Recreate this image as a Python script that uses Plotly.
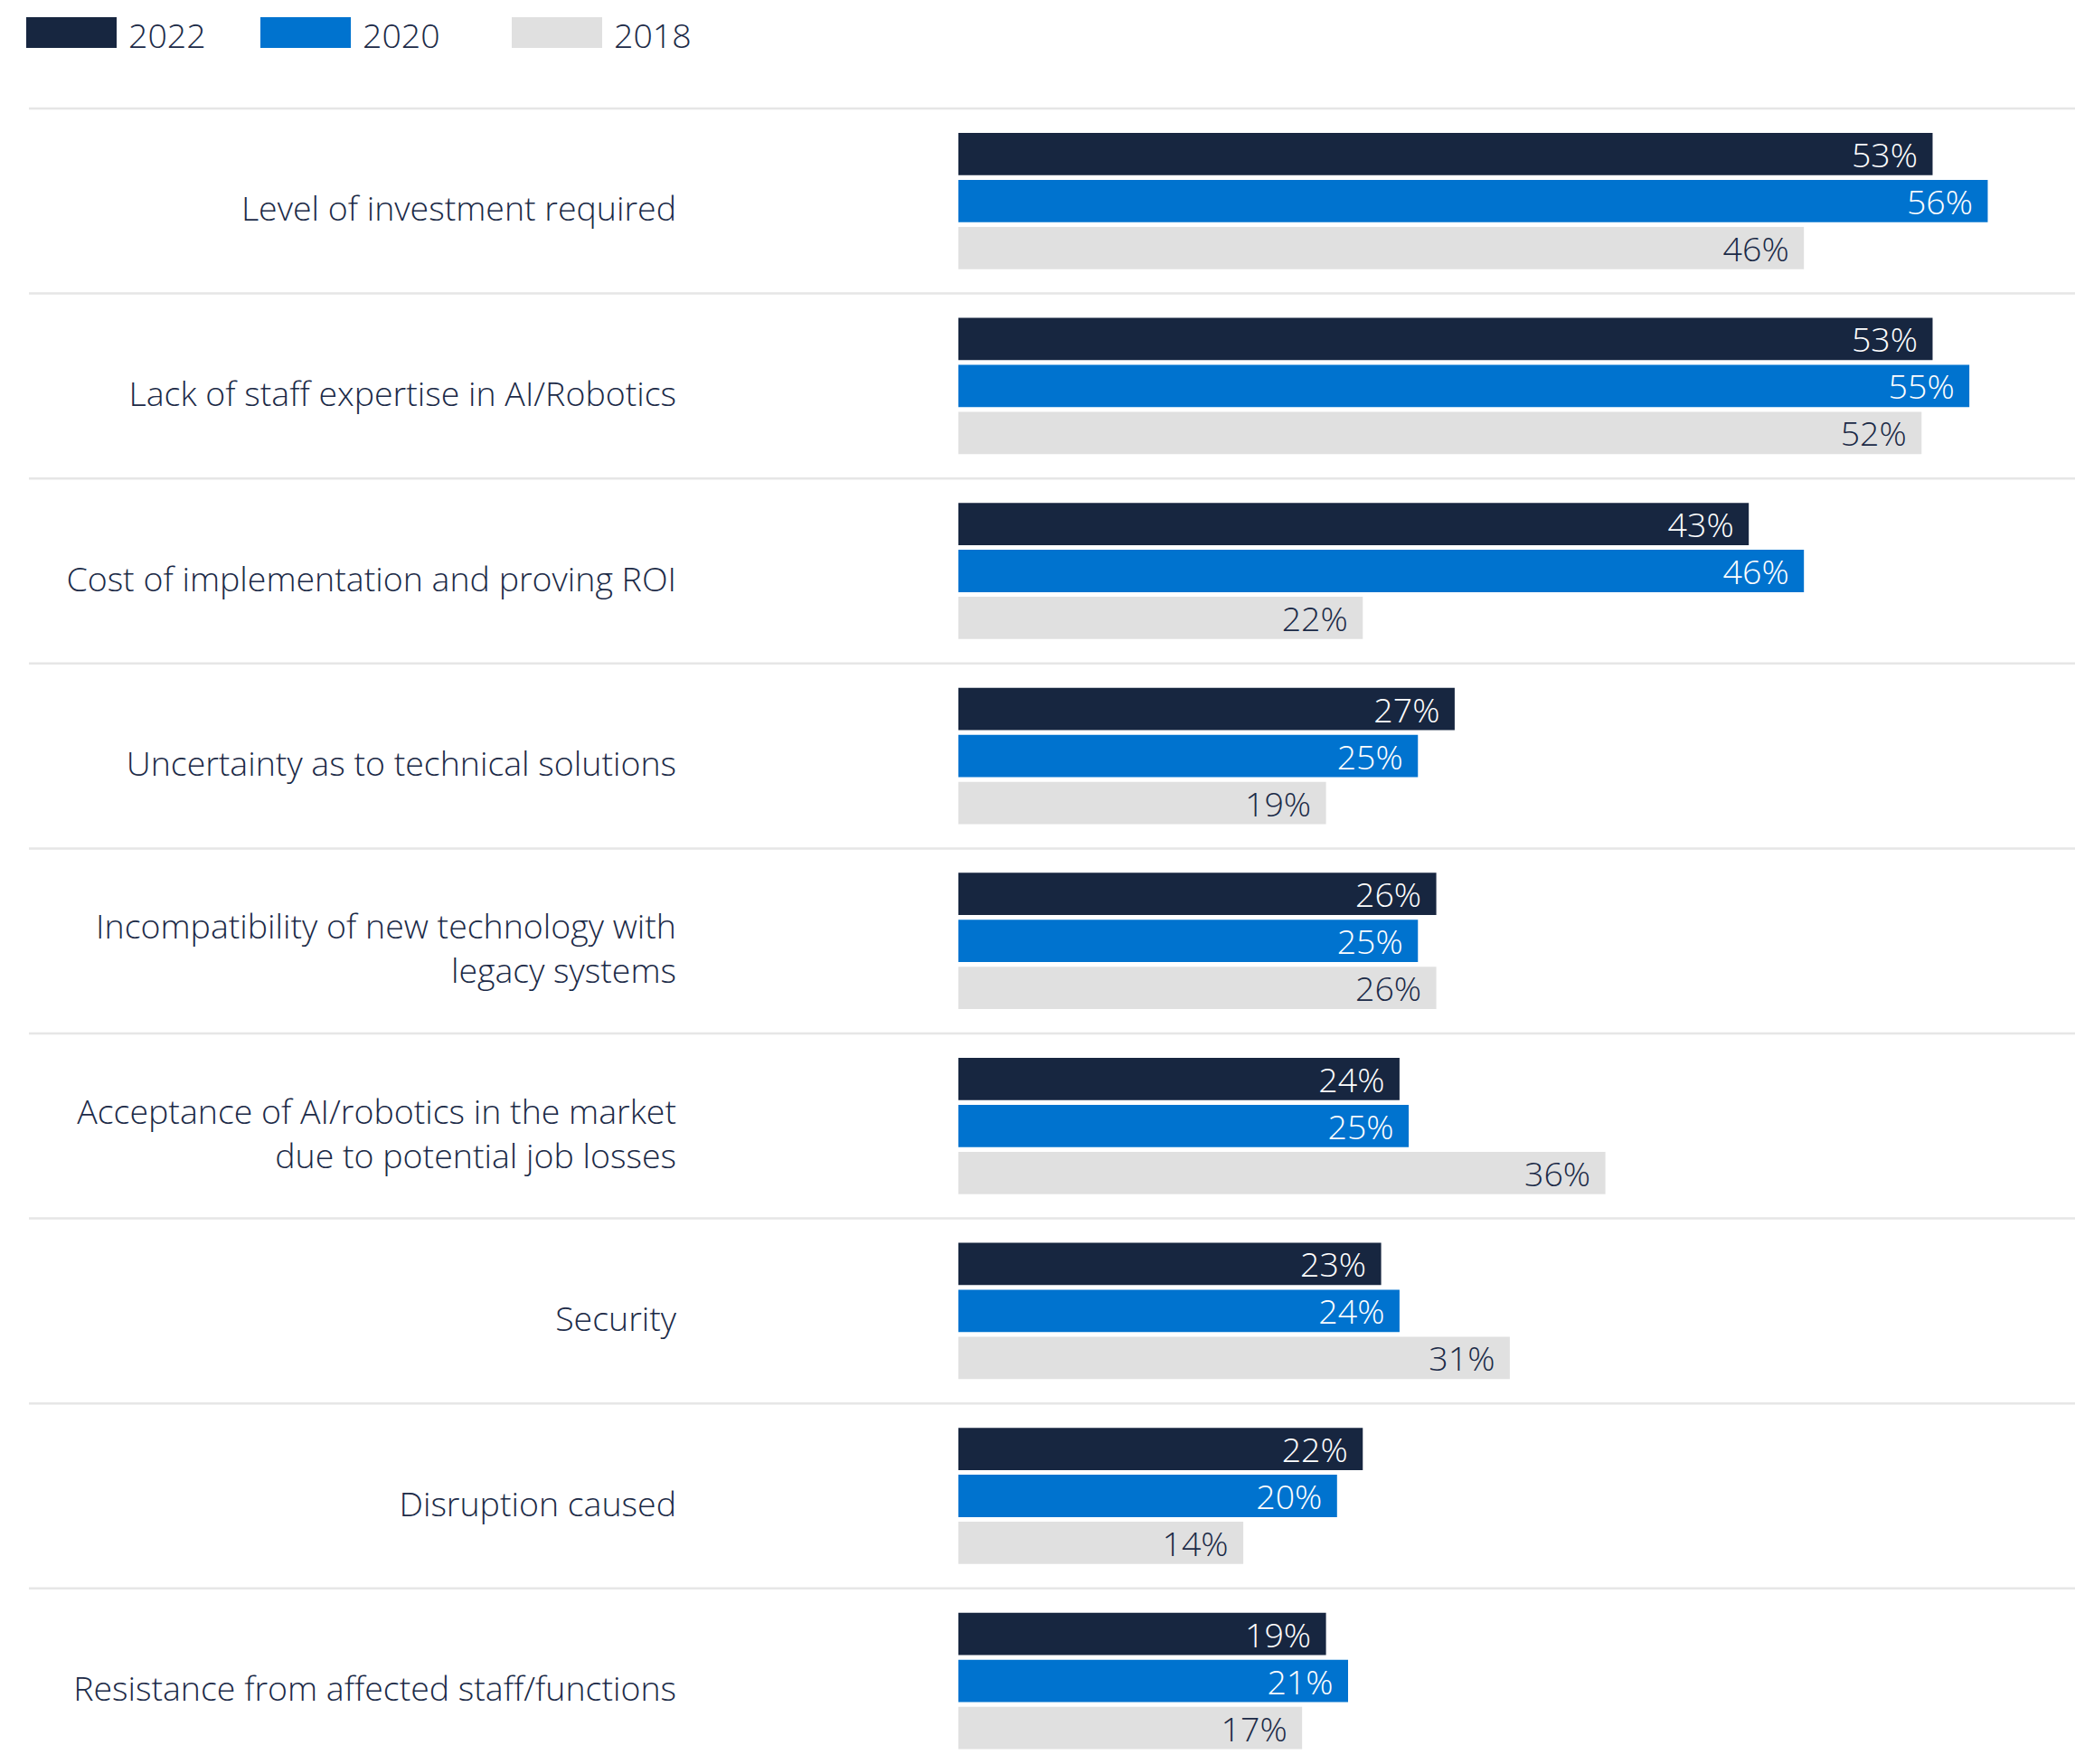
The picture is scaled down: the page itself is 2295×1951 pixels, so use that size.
import plotly.graph_objects as go

categories = [
    "Level of investment required",
    "Lack of staff expertise in AI/Robotics",
    "Cost of implementation and proving ROI",
    "Uncertainty as to technical solutions",
    "Incompatibility of new technology with<br>legacy systems",
    "Acceptance of AI/robotics in the market<br>due to potential job losses",
    "Security",
    "Disruption caused",
    "Resistance from affected staff/functions",
]
series_names = ["2022", "2020", "2018"]
# bar lengths as drawn in the picture
values_2022 = [53, 53, 43, 27, 26, 24, 23, 22, 20]
values_2020 = [56, 55, 46, 25, 25, 24.5, 24, 20.6, 21.2]
values_2018 = [46, 52.4, 22, 20, 26, 35.2, 30, 15.5, 18.7]
# printed labels
labels_2022 = [53, 53, 43, 27, 26, 24, 23, 22, 19]
labels_2020 = [56, 55, 46, 25, 25, 25, 24, 20, 21]
labels_2018 = [46, 52, 22, 19, 26, 36, 31, 14, 17]
colors = ["#172640", "#0073CF", "#E0E0E0"]
label_colors = ["#FFFFFF", "#FFFFFF", "#1B2A47"]

W, H = 2295, 1951
L, R, T, B = 1060, 0, 116, 0
unit_px = 204.6
x_px_per_unit = 20.33
FONT = "Open Sans"
TXT = "#1B2A47"
FS = 37.5
FW = 300

pw = W - L - R
ph = H - T - B
y_top = -0.5 - (120 - T) / unit_px
y_bot = y_top + ph / unit_px
x_max = pw / x_px_per_unit

fig = go.Figure()
for name, vals, labs, col, lc in zip(series_names,
                                     [values_2022, values_2020, values_2018],
                                     [labels_2022, labels_2020, labels_2018],
                                     colors, label_colors):
    fig.add_trace(go.Bar(
        y=categories, x=vals, orientation="h", name=name,
        marker=dict(color=col, line=dict(width=0)),
        text=[f"{v}%\u00a0\u200a" for v in labs],
        textposition="inside", insidetextanchor="end", constraintext="none",
        textfont=dict(family=FONT, size=FS, color=lc, weight=FW),
        hoverinfo="skip", showlegend=False,
    ))

shapes = []
for i in range(len(categories)):
    shapes.append(dict(type="line", xref="paper", yref="y",
                       x0=(32 - L) / pw, x1=1.0, y0=i - 0.5, y1=i - 0.5,
                       line=dict(color="#E6E6E6", width=2.5), layer="below"))

def px_x(p):
    return (p - L) / pw

def px_y(p):
    return 1 - (p - T) / ph

annotations = []
leg_x = [29, 288, 566]
for name, col, lx in zip(series_names, colors, leg_x):
    shapes.append(dict(type="rect", xref="paper", yref="paper",
                       x0=px_x(lx), x1=px_x(lx + 100), y0=px_y(53), y1=px_y(19),
                       fillcolor=col, line=dict(width=0)))
    annotations.append(dict(xref="paper", yref="paper", x=px_x(lx + 111), y=px_y(39),
                            text=name, showarrow=False, xanchor="left", yanchor="middle",
                            font=dict(family=FONT, size=FS, color=TXT, weight=FW)))

fig.update_layout(
    width=W, height=H,
    margin=dict(l=L, r=R, t=T, b=B, pad=0),
    paper_bgcolor="white", plot_bgcolor="white",
    barmode="group", bargap=0.238, bargroupgap=0.1,
    uniformtext=dict(minsize=FS, mode="show"),
    shapes=shapes, annotations=annotations,
    xaxis=dict(range=[0, x_max], visible=False, fixedrange=True),
    yaxis=dict(range=[y_bot, y_top], showgrid=False, zeroline=False, showline=False,
               ticks="", ticklabelstandoff=311, ticklabelshift=-9,
               tickfont=dict(family=FONT, size=FS, color=TXT, weight=FW)),
    font=dict(family=FONT, color=TXT),
)

fig.write_html("out.html", config={"displayModeBar": False},
               post_script="document.body.style.margin='0';")
